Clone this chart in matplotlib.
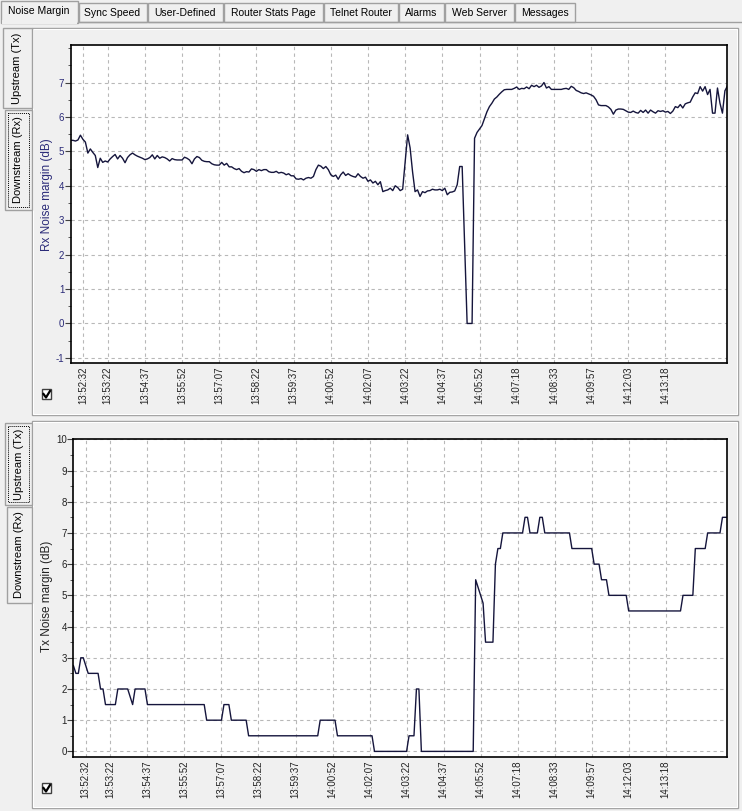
import numpy as np
import matplotlib
matplotlib.use('Agg')
import matplotlib.pyplot as plt
from matplotlib.patches import Rectangle
from matplotlib.ticker import MultipleLocator

W, H = 742, 811

tab_names = ['Noise Margin', 'Sync Speed', 'User-Defined', 'Router Stats Page',
             'Telnet Router', 'Alarms', 'Web Server', 'Messages']

time_labels = ['13:52:32', '13:53:22', '13:54:37', '13:55:52', '13:57:07', '13:58:22',
               '13:59:37', '14:00:52', '14:02:07', '14:03:22', '14:04:37', '14:05:52',
               '14:07:18', '14:08:33', '14:09:57', '14:12:03', '14:13:18']
time_ticks = [5, 15, 30, 45, 60, 75, 90, 105, 120, 135, 150, 165, 180, 195, 210, 225, 240]

# downstream (Rx) noise margin, one value per sample
rx_margin = [
    5.32, 5.32, 5.30, 5.33, 5.47, 5.35, 5.27, 4.95, 5.07, 4.97,
    4.88, 4.53, 4.80, 4.68, 4.72, 4.69, 4.78, 4.85, 4.91, 4.78,
    4.88, 4.80, 4.67, 4.82, 4.90, 4.95, 4.90, 4.86, 4.83, 4.80,
    4.76, 4.78, 4.82, 4.90, 4.78, 4.88, 4.80, 4.84, 4.82, 4.78,
    4.72, 4.79, 4.76, 4.75, 4.75, 4.75, 4.83, 4.80, 4.75, 4.64,
    4.78, 4.85, 4.82, 4.74, 4.71, 4.70, 4.70, 4.64, 4.61, 4.60,
    4.60, 4.68, 4.60, 4.65, 4.55, 4.55, 4.50, 4.47, 4.50, 4.42,
    4.38, 4.41, 4.40, 4.49, 4.47, 4.42, 4.47, 4.44, 4.47, 4.47,
    4.41, 4.39, 4.39, 4.42, 4.37, 4.39, 4.37, 4.32, 4.35, 4.29,
    4.29, 4.20, 4.19, 4.21, 4.17, 4.22, 4.24, 4.22, 4.27, 4.47,
    4.60, 4.57, 4.50, 4.56, 4.47, 4.32, 4.27, 4.31, 4.19, 4.32,
    4.40, 4.30, 4.35, 4.30, 4.27, 4.25, 4.35, 4.27, 4.22, 4.25,
    4.13, 4.17, 4.08, 4.13, 4.03, 4.12, 3.83, 3.86, 3.88, 3.93,
    3.86, 4.00, 3.95, 3.86, 3.90, 4.70, 5.48, 5.10, 4.40, 3.83,
    3.88, 3.69, 3.83, 3.80, 3.85, 3.86, 3.90, 3.88, 3.88, 3.90,
    3.86, 3.93, 3.74, 3.81, 3.82, 3.85, 4.03, 4.56, 4.56, 2.28,
    0.00, 0.00, 0.00, 5.38, 5.55, 5.65, 5.75, 5.95, 6.15, 6.30,
    6.40, 6.52, 6.58, 6.66, 6.73, 6.79, 6.80, 6.80, 6.80, 6.83,
    6.87, 6.80, 6.83, 6.82, 6.87, 6.82, 6.92, 6.88, 6.92, 6.86,
    6.90, 7.00, 6.84, 6.88, 6.80, 6.80, 6.80, 6.80, 6.80, 6.82,
    6.83, 6.80, 6.89, 6.85, 6.77, 6.74, 6.70, 6.68, 6.70, 6.67,
    6.64, 6.60, 6.50, 6.35, 6.33, 6.33, 6.33, 6.29, 6.22, 6.08,
    6.20, 6.23, 6.23, 6.22, 6.18, 6.14, 6.13, 6.17, 6.13, 6.11,
    6.19, 6.13, 6.20, 6.11, 6.20, 6.15, 6.11, 6.18, 6.16, 6.18,
    6.14, 6.16, 6.10, 6.17, 6.30, 6.27, 6.36, 6.26, 6.38, 6.41,
    6.43, 6.58, 6.70, 6.68, 6.88, 6.75, 6.88, 6.65, 6.80, 6.11,
    6.11, 6.84, 6.40, 6.11, 6.76, 6.90,
]

# upstream (Tx) noise margin, one value per sample
tx_margin = [
    2.75, 2.5, 2.5, 3.0, 3.0, 2.75, 2.5, 2.5, 2.5, 2.5,
    2.5, 2.0, 2.0, 1.5, 1.5, 1.5, 1.5, 1.5, 2.0, 2.0,
    2.0, 2.0, 2.0, 1.75, 1.5, 2.0, 2.0, 2.0, 2.0, 2.0,
    1.5, 1.5, 1.5, 1.5, 1.5, 1.5, 1.5, 1.5, 1.5, 1.5,
    1.5, 1.5, 1.5, 1.5, 1.5, 1.5, 1.5, 1.5, 1.5, 1.5,
    1.5, 1.5, 1.5, 1.5, 1.0, 1.0, 1.0, 1.0, 1.0, 1.0,
    1.0, 1.5, 1.5, 1.5, 1.0, 1.0, 1.0, 1.0, 1.0, 1.0,
    1.0, 0.5, 0.5, 0.5, 0.5, 0.5, 0.5, 0.5, 0.5, 0.5,
    0.5, 0.5, 0.5, 0.5, 0.5, 0.5, 0.5, 0.5, 0.5, 0.5,
    0.5, 0.5, 0.5, 0.5, 0.5, 0.5, 0.5, 0.5, 0.5, 0.5,
    1.0, 1.0, 1.0, 1.0, 1.0, 1.0, 1.0, 0.5, 0.5, 0.5,
    0.5, 0.5, 0.5, 0.5, 0.5, 0.5, 0.5, 0.5, 0.5, 0.5,
    0.5, 0.5, 0.0, 0.0, 0.0, 0.0, 0.0, 0.0, 0.0, 0.0,
    0.0, 0.0, 0.0, 0.0, 0.0, 0.0, 0.5, 0.5, 0.5, 2.0,
    2.0, 0.0, 0.0, 0.0, 0.0, 0.0, 0.0, 0.0, 0.0, 0.0,
    0.0, 0.0, 0.0, 0.0, 0.0, 0.0, 0.0, 0.0, 0.0, 0.0,
    0.0, 0.0, 0.0, 5.5, 5.25, 5.0, 4.75, 3.5, 3.5, 3.5,
    3.5, 6.0, 6.5, 6.5, 7.0, 7.0, 7.0, 7.0, 7.0, 7.0,
    7.0, 7.0, 7.0, 7.5, 7.5, 7.0, 7.0, 7.0, 7.0, 7.5,
    7.5, 7.0, 7.0, 7.0, 7.0, 7.0, 7.0, 7.0, 7.0, 7.0,
    7.0, 7.0, 6.5, 6.5, 6.5, 6.5, 6.5, 6.5, 6.5, 6.5,
    6.5, 6.0, 6.0, 6.0, 5.5, 5.5, 5.5, 5.0, 5.0, 5.0,
    5.0, 5.0, 5.0, 5.0, 5.0, 4.5, 4.5, 4.5, 4.5, 4.5,
    4.5, 4.5, 4.5, 4.5, 4.5, 4.5, 4.5, 4.5, 4.5, 4.5,
    4.5, 4.5, 4.5, 4.5, 4.5, 4.5, 4.5, 5.0, 5.0, 5.0,
    5.0, 5.0, 6.5, 6.5, 6.5, 6.5, 6.5, 7.0, 7.0, 7.0,
    7.0, 7.0, 7.0, 7.5, 7.5, 7.5,
]

plt.rcParams['font.family'] = ['Liberation Sans', 'DejaVu Sans']
plt.rcParams['axes.unicode_minus'] = False

BG = '#f0f0f0'
EDGE = '#a0a0a0'
LINE = '#15153c'
NAVY = '#2a2a78'

fig = plt.figure(figsize=(W / 100, H / 100), dpi=100, facecolor=BG)

# window chrome drawn in pixel coordinates
bg = fig.add_axes([0, 0, 1, 1])
bg.set_xlim(0, W)
bg.set_ylim(H, 0)
bg.axis('off')

tab_edges = [0, 78, 147, 223, 323, 398, 444, 514, 575]
bg.plot([78, W], [22, 22], color=EDGE, lw=1)
for k, name in enumerate(tab_names):
    x0, x1 = tab_edges[k], tab_edges[k + 1]
    if k == 0:
        bg.add_patch(Rectangle((x0 + 0.5, 1), x1 - x0 - 1, 22, fc=BG, ec=EDGE, lw=1))
        bg.add_patch(Rectangle((x0 + 1.5, 20), x1 - x0 - 3, 4, fc=BG, ec='none'))
        bg.text((x0 + x1) / 2, 11, name, ha='center', va='center', fontsize=7.5, color='black')
    else:
        bg.add_patch(Rectangle((x0 + 0.5, 3), x1 - x0 - 1, 19, fc=BG, ec=EDGE, lw=1))
        bg.text((x0 + x1) / 2, 12.5, name, ha='center', va='center', fontsize=7.5, color='black')

# group frames
for top, bot in [(28, 415), (421, 808)]:
    bg.add_patch(Rectangle((32, top), 706, bot - top, fc='none', ec=EDGE, lw=1))
    bg.add_patch(Rectangle((33, top + 1), 704, bot - top - 2, fc='none', ec='white', lw=0.8))


def side_tab(x0, y0, w, h, label, selected):
    bg.add_patch(Rectangle((x0, y0), w, h, fc=BG, ec=EDGE, lw=1))
    if selected:
        bg.add_patch(Rectangle((x0 + 3, y0 + 3), w - 6, h - 6, fc='none', ec='black',
                               lw=0.7, ls=(0, (1, 1))))
    bg.text(x0 + w / 2, y0 + h / 2, label, rotation=90, ha='center', va='center',
            fontsize=8, color='black')


side_tab(3, 28, 29, 80, 'Upstream (Tx)', False)
side_tab(5, 110, 27, 100, 'Downstream (Rx)', True)
side_tab(5, 423, 27, 82, 'Upstream (Tx)', True)
side_tab(7, 507, 25, 96, 'Downstream (Rx)', False)

for cy in [389, 783]:
    bg.add_patch(Rectangle((42, cy), 9, 10, fc='white', ec='#404040', lw=1))
    bg.plot([43.5, 46, 50], [cy + 5, cy + 8.5, cy + 2], color='black', lw=1.6)


def chart_axes(left, top, right, bottom):
    return fig.add_axes([left / W, 1 - bottom / H, (right - left) / W, (bottom - top) / H])


def style(ax, label_color):
    ax.set_facecolor('white')
    ax.set_xlim(0, 265)
    ax.set_xticks(time_ticks)
    ax.set_xticklabels(time_labels, rotation=90, fontsize=7, color='#222222')
    ax.yaxis.set_minor_locator(MultipleLocator(0.5))
    ax.grid(True, which='major', color='#b8b8b8', ls=(0, (3, 3)), lw=0.8)
    ax.tick_params(axis='x', length=0, pad=3)
    ax.tick_params(axis='y', which='major', length=4, pad=0.5, labelsize=7,
                   labelcolor=label_color, color='#404040')
    ax.tick_params(axis='y', which='minor', length=2, color='#404040')
    for s in ax.spines.values():
        s.set_linewidth(1.2)
        s.set_color('black')


ax1 = chart_axes(70.5, 45, 727.4, 362.7)
ax1.plot(np.arange(len(rx_margin)), rx_margin, color=LINE, lw=1.0)
ax1.set_ylim(-1.14, 8.09)
ax1.set_yticks(range(-1, 8))
style(ax1, NAVY)

ax2 = chart_axes(73.4, 439.3, 727.4, 756.7)
ax2.plot(np.arange(len(tx_margin)), tx_margin, color=LINE, lw=1.0)
ax2.set_ylim(-0.17, 10)
ax2.set_yticks(range(0, 11))
style(ax2, '#222222')

fig.text(47 / W, 1 - 195 / H, 'Rx Noise margin (dB)', rotation=90, ha='center',
         va='center', fontsize=8.5, color=NAVY)
fig.text(47 / W, 1 - 596 / H, 'Tx Noise margin (dB)', rotation=90, ha='center',
         va='center', fontsize=8.5, color='#222222')

fig.savefig('out.png', dpi=100, facecolor=BG)
